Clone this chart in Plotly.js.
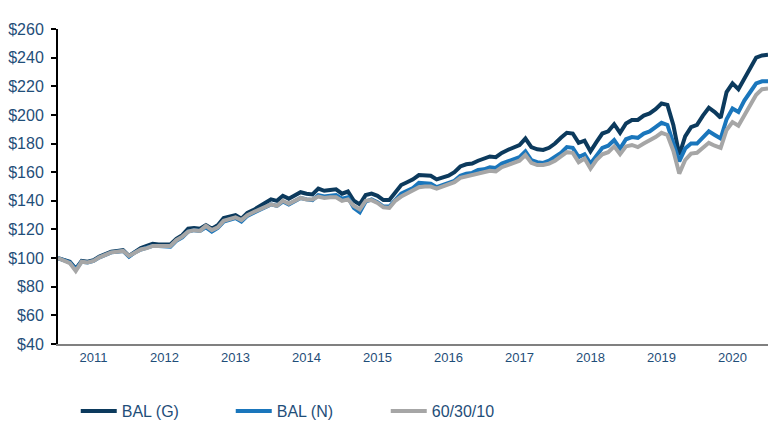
<!DOCTYPE html>
<html>
<head>
<meta charset="utf-8">
<script src="https://cdn.plot.ly/plotly-3.0.1.min.js"></script>
<style>
html,body{margin:0;padding:0;background:#fff;}
#chart{width:768px;height:428px;}
</style>
</head>
<body>
<div id="chart"></div>
<script>
// Month index from mid-2011 (0) to mid-2021 (120)
const seriesNames = ["BAL (G)", "BAL (N)", "60/30/10"];
const yearLabels = ["2011","2012","2013","2014","2015","2016","2017","2018","2019","2020"];
const yearTickPos = [6,18,30,42,54,66,78,90,102,114];

const balG = [100,99,97.5,92.5,98,97.5,98.5,101,103,104.5,
105,105.5,101.5,104.5,107,108.5,110,109.5,109.5,109.5,
113.5,116,120.5,121,120.5,123,120.5,123,128,129,
130,127.5,131.5,133.5,136,138,141,140,143.5,141.5,
143.5,146,145,144.5,148.5,147,147.5,148,145,146.5,
140,137.5,144,145,143.5,140.5,140.5,146,151,153,
155,158,157.5,157.5,155,156,157.5,160,164,165.5,
166,168,169.5,171,170.5,173.5,175.5,177,179,183.5,
177.5,176,175.5,177,180,184,187.5,187,180.5,182,
174.5,181,187,188.5,193.5,187.5,194,196.5,196.5,199.5,
201,204,208,207,193,172,185,191.5,193,199.5,
205,202,198,216,222,218,225,233,240,241.5,242];

const balN = [100,98.5,97,92,97.5,97,98,100.5,102.5,104,
104.5,105,101,104,106,107,108.5,108.5,108.5,108,
112,114.5,118.5,119.5,119,121.5,118.5,121,125.5,127,
128,125.5,129.5,131.5,133.5,135.5,137.5,136.5,139.5,137.5,
139.5,142,141,140.5,144,143,143.5,144,141.5,142.5,
135,132,139.5,141,139,136,136,140.5,145,147,
149,152.5,152,152,149.5,151,152,154,157.5,159,
159.5,161.5,162,163.5,163,166,167.5,169,170.5,174.5,
168.5,167,166.5,168,170.5,173.5,177.5,177,170.5,172.5,
166,172,177,178.5,182.5,176.5,183,184.5,184,187,
188.5,191.5,194.5,193,180,167.5,176.5,180,180,184,
188.5,186,183.5,197,204.5,202,210,216,222,223.5,223.5];

const bench = [100,98.5,96.5,91,97.5,97,98,100.5,102.5,104,
104.5,105,101.5,104,106,107,108.5,108.5,108.5,108.5,
112.5,115,118.5,119.5,119,122.5,119.5,121.5,126,127.5,
128.5,126.5,130,132,134,136,137.5,136.5,140,138,
140,142,141,141,143,142,142.5,142.5,140,141,
136.5,134,140,140.5,138.5,135.5,135,140,143,145,
147,149.5,150,150,148.5,150,151.5,153,156,157,
157.5,159,159.5,161,160.5,163.5,165,166.5,168,172,
166.5,165,165,166,168,171,174,173.5,167,169.5,
162.5,168.5,172.5,174,178,172.5,178,179,177.5,180,
182,184.5,187.5,186,175,159,168.5,173,173.5,177,
180.5,178.5,177,189.5,195,192.5,200,207,214,218,218.5];

const monthIdx = balG.map((_, i) => i);
const colors = ["#0c3a5d", "#1a76bc", "#a6a6a6"];
const navy = "#1f4e79";

const traces = [balG, balN, bench].map((vals, k) => ({
  x: monthIdx,
  y: vals,
  type: "scatter",
  mode: "lines",
  name: seriesNames[k],
  line: {color: colors[k], width: 4},
  hoverinfo: "skip"
}));

const layout = {
  width: 768, height: 428,
  margin: {l: 58, r: 0, t: 29, b: 83},
  paper_bgcolor: "#ffffff",
  plot_bgcolor: "#ffffff",
  font: {family: "Liberation Sans, Arial, sans-serif", color: navy},
  showlegend: true,
  legend: {
    orientation: "h",
    x: 0.025, xanchor: "left",
    y: -0.212, yanchor: "middle",
    font: {size: 16, color: navy, family: "Liberation Sans Narrow, Arial Narrow, Liberation Sans, sans-serif"},
    entrywidth: 104, entrywidthmode: "pixels",
    itemwidth: 36,
    traceorder: "normal"
  },
  xaxis: {
    range: [0, 120],
    tickmode: "array",
    tickvals: yearTickPos,
    ticktext: yearLabels,
    showline: true, linecolor: "#808080", linewidth: 2,
    ticks: "", showgrid: false, zeroline: false,
    tickfont: {size: 13, color: navy},
    fixedrange: true
  },
  yaxis: {
    range: [40, 260],
    dtick: 20, tick0: 40,
    tickprefix: "$",
    showline: true, linecolor: "#000000", linewidth: 2,
    ticks: "outside", ticklen: 5, tickwidth: 2, tickcolor: "#000000",
    showgrid: false, zeroline: false,
    tickfont: {size: 16, color: navy},
    ticklabelstandoff: 4,
    fixedrange: true
  }
};

Plotly.newPlot("chart", traces, layout, {displayModeBar: false, staticPlot: true});
</script>
</body>
</html>
